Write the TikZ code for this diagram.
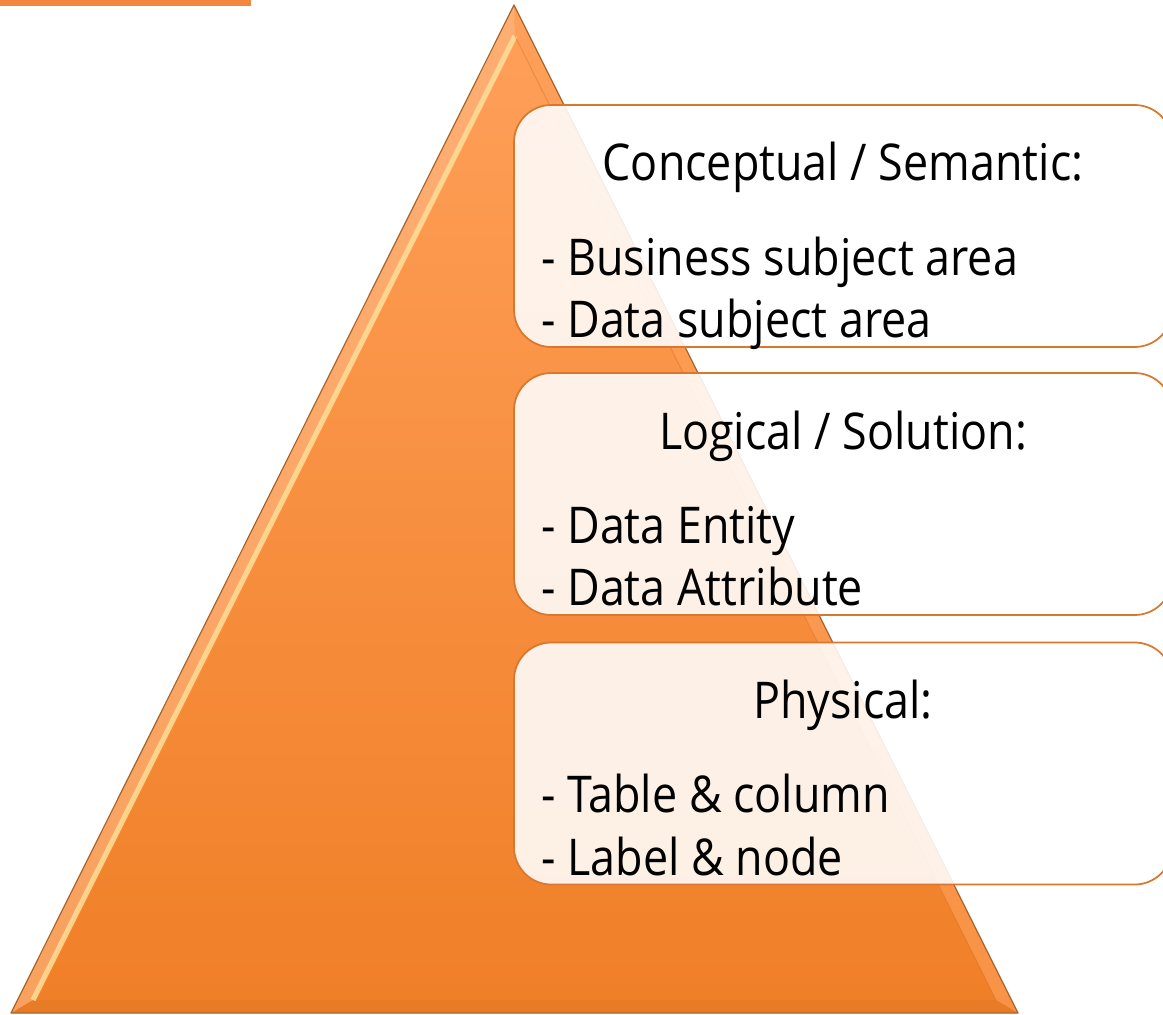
\documentclass[tikz,border=0pt]{standalone}
\usepackage{fontspec}
\setmainfont{Open Sans}[FakeStretch=0.885]
\usetikzlibrary{shapes.misc}
\definecolor{barorange}{HTML}{F4873F}
\definecolor{tritop}{HTML}{FFA05A}
\definecolor{tribot}{HTML}{F07F27}
\definecolor{triedge}{HTML}{A8652E}
\definecolor{boxedge}{HTML}{D9772E}
\definecolor{hilite}{HTML}{FFE39C}
\tikzset{
  px/.style={x=0.75pt,y=-0.75pt},
  layerbox/.style={rectangle, rounded corners=28pt, draw=boxedge, line width=1.3pt,
     fill=white, fill opacity=0.88, text opacity=1, minimum width=493.5pt, minimum height=181.5pt, inner sep=0pt},
  head/.style={font=\fontsize{38}{40}\selectfont, anchor=base, inner sep=0pt},
  item/.style={font=\fontsize{38}{40}\selectfont, anchor=base west, inner sep=0pt},
}
\begin{document}
\begin{tikzpicture}[px]
\useasboundingbox (0,0) rectangle (1163,1014);
\clip (0,0) rectangle (1163,1014);
% top bar
\fill[barorange] (0,0) rectangle (251,6);
% pyramid
\coordinate (A) at (514,5);
\coordinate (L) at (11,1013);
\coordinate (R) at (1018,1013);
\coordinate (Ai) at (515,36);
\coordinate (Li) at (33,1000);
\coordinate (Ri) at (996,1000);
\shade[top color=tritop, bottom color=tribot] (A) -- (L) -- (R) -- cycle;
\fill[tritop!75!white, opacity=0.6] (A) -- (L) -- (Li) -- (Ai) -- cycle;
\fill[tritop, opacity=0.6] (A) -- (R) -- (Ri) -- (Ai) -- cycle;
\fill[tribot!90!black, opacity=0.3] (L) -- (R) -- (Ri) -- (Li) -- cycle;
\draw[hilite, line width=4pt, opacity=0.8] (Ai) -- (Li);
\draw[tribot!85!black, line width=0.8pt, opacity=0.35] (Ai) -- (Ri);
\draw[triedge, line width=0.9pt, line join=round] (A) -- (L) -- (R) -- cycle;
% boxes
\node[layerbox] (b1) at (843,226) {};
\node[layerbox] (b2) at (843,494) {};
\node[layerbox] (b3) at (843,763.5) {};
% texts
\node[head] (h1) at (843,180) {Conceptual / Semantic:};
\node[item] (i11) at (541,275) {- Business subject area};
\node[item] (i12) at (541,337) {- Data subject area};
\node[head] (h2) at (843,449) {Logical / Solution:};
\node[item] (i21) at (541,543) {- Data Entity};
\node[item] (i22) at (541,605) {- Data Attribute};
\node[head] (h3) at (843,718) {Physical:};
\node[item] (i31) at (541,812) {- Table \& column};
\node[item] (i32) at (541,875) {- Label \& node};
\end{tikzpicture}
\end{document}
